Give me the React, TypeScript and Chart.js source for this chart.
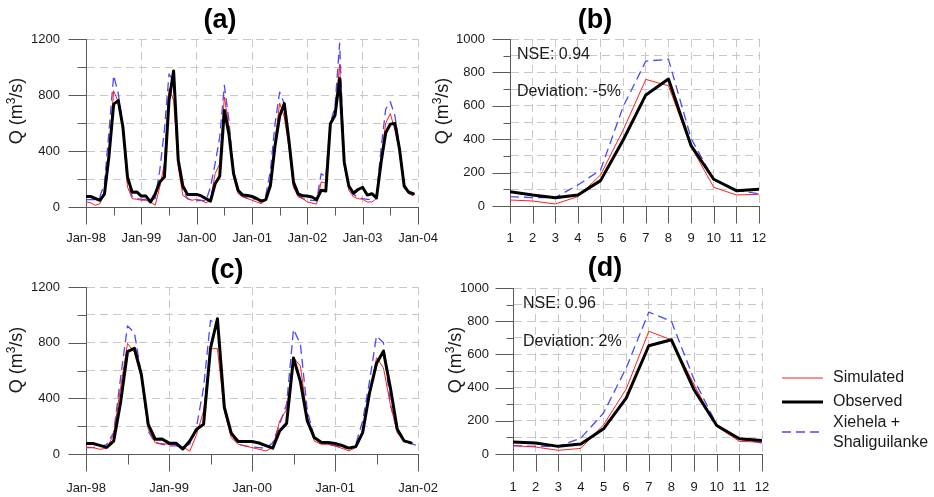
import React, { useEffect, useRef } from 'react';
import { Chart, registerables } from 'chart.js';

Chart.register(...registerables);

const W = 934;
const H = 497;
const FONT = '"Liberation Sans", Arial, Helvetica, sans-serif';

// ---------- data ----------
const xLabelsA = ['Jan-98', 'Jan-99', 'Jan-00', 'Jan-01', 'Jan-02', 'Jan-03', 'Jan-04'];
const xLabelsC = ['Jan-98', 'Jan-99', 'Jan-00', 'Jan-01', 'Jan-02'];
const monthLabels = ['1', '2', '3', '4', '5', '6', '7', '8', '9', '10', '11', '12'];

// (a) monthly series Jan-98 .. Dec-03
const observedA = [
  75, 75, 62, 48, 92, 370, 735, 760, 572, 213, 106, 108,
  78, 78, 36, 93, 178, 214, 760, 972, 335, 150, 90, 90,
  90, 79, 60, 42, 166, 220, 690, 520, 238, 118, 85, 82,
  75, 61, 42, 53, 154, 440, 650, 739, 477, 178, 94, 80,
  79, 72, 52, 119, 114, 595, 655, 917, 320, 150, 98, 125,
  140, 85, 95, 65, 320, 530, 592, 596, 410, 150, 105, 95,
];
const simulatedA = [
  36, 31, 12, 24, 95, 390, 830, 750, 560, 143, 60, 55,
  48, 48, 36, 12, 143, 310, 845, 762, 286, 83, 60, 48,
  55, 48, 29, 48, 238, 310, 786, 571, 214, 95, 72, 60,
  48, 36, 24, 48, 191, 476, 742, 643, 429, 143, 72, 60,
  36, 29, 20, 179, 172, 595, 643, 1020, 300, 119, 72, 60,
  55, 36, 36, 60, 357, 600, 667, 548, 405, 143, 95, 79,
];
const upstreamA = [
  52, 52, 52, 71, 167, 548, 940, 810, 583, 179, 76, 60,
  55, 55, 55, 60, 262, 548, 950, 900, 310, 119, 60, 48,
  45, 48, 43, 143, 310, 500, 869, 619, 262, 107, 76, 64,
  60, 52, 48, 83, 262, 595, 821, 738, 452, 143, 83, 60,
  52, 48, 45, 238, 214, 600, 720, 1170, 330, 140, 90, 70,
  60, 55, 55, 80, 420, 700, 752, 650, 430, 150, 100, 85,
];

// (b) mean monthly, period of (a)
const observedB = [86, 66, 50, 66, 152, 395, 665, 760, 361, 160, 92, 100];
const simulatedB = [36, 30, 12, 56, 186, 455, 758, 720, 355, 112, 66, 70];
const upstreamB = [56, 50, 50, 126, 216, 595, 868, 878, 405, 156, 96, 72];

// (c) monthly series Jan-98 .. Dec-01 (+ Jan-02 for upstream)
const observedC = observedA.slice(0, 48);
const simulatedC = [
  50, 46, 34, 41, 141, 477, 795, 728, 548, 177, 81, 74,
  70, 65, 50, 20, 141, 309, 757, 757, 309, 117, 70, 58,
  46, 34, 22, 46, 237, 321, 692, 632, 261, 93, 70, 70,
  58, 41, 22, 46, 165, 429, 692, 620, 357, 153, 89, 81,
];
const upstreamC = [
  46, 46, 50, 70, 153, 548, 920, 872, 572, 165, 81, 70,
  58, 58, 50, 70, 201, 477, 960, 932, 357, 141, 70, 58,
  50, 46, 41, 81, 213, 357, 896, 788, 309, 117, 81, 70,
  58, 46, 41, 70, 237, 525, 848, 800, 357, 165, 93, 74,
  58,
];

// (d) mean monthly, period of (c)
const observedD = [72, 66, 46, 60, 152, 337, 652, 688, 387, 172, 92, 82];
const simulatedD = [50, 42, 22, 34, 176, 391, 739, 688, 417, 166, 76, 72];
const upstreamD = [50, 46, 46, 96, 247, 518, 855, 799, 448, 176, 90, 66];

const statsB = ['NSE: 0.94', 'Deviation: -5%'];
const statsD = ['NSE: 0.96', 'Deviation: 2%'];
const legendLabels = ['Simulated', 'Observed', 'Xiehela +', 'Shaliguilanke'];

// ---------- styles ----------
const RED = '#ff1f1f';
const BLUE = '#4848ff';
const BLACK = '#000000';
const GRID = '#c8c8c8';
const AXIS = '#5a5a5a';
const TEXT = '#1a1a1a';
const BLUE_DASH = [9, 5];

type Area = { left: number; top: number; right: number; bottom: number };
type PanelCfg = {
  key: string;
  area: Area;
  x0: number;
  xMin: number;
  xMax: number;
  xStep: number;
  xLabel: (v: number) => string;
  xGrid: (v: number) => boolean;
  xMajor: (v: number) => boolean;
  xMajorLen: number;
  xMinorLen: number;
  xPad: number;
  yMax: number;
  yStep: number;
  yLabel: (v: number) => boolean;
  yGrid: (v: number) => boolean;
  yMajorLen: number;
  yMinorLen: number;
  yPad: number;
  sim: number[];
  obs: number[];
  up: number[];
  title: { text: string; x: number; y: number };
  yTitle: { x: number; y: number };
  notes: { text: string; x: number; y: number }[];
  legend: boolean;
};

const panels: PanelCfg[] = [
  {
    key: 'a',
    area: { left: 86, top: 39, right: 418, bottom: 207 },
    x0: 0, xMin: 0, xMax: 72, xStep: 6,
    xLabel: (v) => (v % 12 === 0 ? xLabelsA[v / 12] : ''),
    xGrid: (v) => v % 12 === 0,
    xMajor: (v) => v % 12 === 0,
    xMajorLen: 17, xMinorLen: 8, xPad: 7,
    yMax: 1200, yStep: 200,
    yLabel: (v) => v % 400 === 0,
    yGrid: () => true,
    yMajorLen: 18, yMinorLen: 9, yPad: 9,
    sim: simulatedA, obs: observedA, up: upstreamA,
    title: { text: '(a)', x: 220, y: 21 },
    yTitle: { x: 16, y: 111 },
    notes: [],
    legend: false,
  },
  {
    key: 'b',
    area: { left: 510, top: 39, right: 759, bottom: 206 },
    x0: 1, xMin: 1, xMax: 12, xStep: 1,
    xLabel: (v) => monthLabels[v - 1] ?? '',
    xGrid: () => true,
    xMajor: () => true,
    xMajorLen: 17, xMinorLen: 17, xPad: 8,
    yMax: 1000, yStep: 100,
    yLabel: (v) => v % 200 === 0,
    yGrid: () => true,
    yMajorLen: 18, yMinorLen: 7, yPad: 8,
    sim: simulatedB, obs: observedB, up: upstreamB,
    title: { text: '(b)', x: 595, y: 21 },
    yTitle: { x: 442, y: 111 },
    notes: [
      { text: statsB[0], x: 517, y: 55 },
      { text: statsB[1], x: 517, y: 92 },
    ],
    legend: false,
  },
  {
    key: 'c',
    area: { left: 86, top: 287, right: 418, bottom: 454 },
    x0: 0, xMin: 0, xMax: 48, xStep: 6,
    xLabel: (v) => (v % 12 === 0 ? xLabelsC[v / 12] : ''),
    xGrid: (v) => v % 12 === 0,
    xMajor: (v) => v % 12 === 0,
    xMajorLen: 17, xMinorLen: 10, xPad: 10,
    yMax: 1200, yStep: 200,
    yLabel: (v) => v % 400 === 0,
    yGrid: () => true,
    yMajorLen: 18, yMinorLen: 9, yPad: 9,
    sim: simulatedC, obs: observedC, up: upstreamC,
    title: { text: '(c)', x: 227, y: 271 },
    yTitle: { x: 16, y: 360 },
    notes: [],
    legend: false,
  },
  {
    key: 'd',
    area: { left: 513, top: 288, right: 762, bottom: 454 },
    x0: 1, xMin: 1, xMax: 12, xStep: 1,
    xLabel: (v) => monthLabels[v - 1] ?? '',
    xGrid: () => true,
    xMajor: () => true,
    xMajorLen: 17, xMinorLen: 17, xPad: 9,
    yMax: 1000, yStep: 100,
    yLabel: (v) => v % 200 === 0,
    yGrid: () => true,
    yMajorLen: 18, yMinorLen: 7, yPad: 7,
    sim: simulatedD, obs: observedD, up: upstreamD,
    title: { text: '(d)', x: 605, y: 269 },
    yTitle: { x: 455, y: 360 },
    notes: [
      { text: statsD[0], x: 523, y: 304 },
      { text: statsD[1], x: 523, y: 342 },
    ],
    legend: true,
  },
];

function toPoints(values: number[], start: number) {
  return values.map((v, i) => ({ x: start + i, y: v }));
}

function drawYTitle(ctx: CanvasRenderingContext2D, x: number, y: number) {
  const big = 18;
  const small = 12;
  const parts = [
    { t: 'Q (m', size: big, rise: 0 },
    { t: '3', size: small, rise: 7 },
    { t: '/s)', size: big, rise: 0 },
  ];
  ctx.save();
  ctx.translate(x, y);
  ctx.rotate(-Math.PI / 2);
  ctx.fillStyle = TEXT;
  ctx.textBaseline = 'alphabetic';
  ctx.textAlign = 'left';
  let total = 0;
  const widths = parts.map((p) => {
    ctx.font = `${p.size}px ${FONT}`;
    const w = ctx.measureText(p.t).width;
    total += w;
    return w;
  });
  let cx = -total / 2;
  const base = big * 0.716 / 2;
  parts.forEach((p, i) => {
    ctx.font = `${p.size}px ${FONT}`;
    ctx.fillText(p.t, cx, base - p.rise);
    cx += widths[i];
  });
  ctx.restore();
}

function makeDecor(cfg: PanelCfg) {
  return {
    id: 'decor_' + cfg.key,
    afterDraw(chart: any) {
      const ctx: CanvasRenderingContext2D = chart.ctx;
      const ca = chart.chartArea;
      const xs = chart.scales.x;
      const ys = chart.scales.y;
      ctx.save();
      ctx.strokeStyle = AXIS;
      ctx.lineWidth = 1;
      ctx.setLineDash([]);
      const yb = Math.round(ca.bottom) + 0.5;
      xs.ticks.forEach((t: any) => {
        const p = Math.round(xs.getPixelForValue(t.value)) + 0.5;
        const len = cfg.xMajor(t.value) ? cfg.xMajorLen : cfg.xMinorLen;
        ctx.beginPath();
        ctx.moveTo(p, yb);
        ctx.lineTo(p, yb + len);
        ctx.stroke();
      });
      const xl = Math.round(ca.left) + 0.5;
      ys.ticks.forEach((t: any) => {
        const p = Math.round(ys.getPixelForValue(t.value)) + 0.5;
        const len = cfg.yLabel(t.value) ? cfg.yMajorLen : cfg.yMinorLen;
        ctx.beginPath();
        ctx.moveTo(xl, p);
        ctx.lineTo(xl - len, p);
        ctx.stroke();
      });
      ctx.restore();

      // panel title
      ctx.save();
      ctx.fillStyle = BLACK;
      ctx.font = `bold 27px ${FONT}`;
      ctx.textAlign = 'center';
      ctx.textBaseline = 'middle';
      ctx.fillText(cfg.title.text, cfg.title.x, cfg.title.y);
      ctx.restore();

      drawYTitle(ctx, cfg.yTitle.x, cfg.yTitle.y);

      // statistics notes
      ctx.save();
      ctx.fillStyle = TEXT;
      ctx.font = `16px ${FONT}`;
      ctx.textAlign = 'left';
      ctx.textBaseline = 'middle';
      cfg.notes.forEach((n) => ctx.fillText(n.text, n.x, n.y));
      ctx.restore();

      if (cfg.legend) {
        const ds = chart.data.datasets;
        const byLabel = (l: string) => ds.find((d: any) => d.label === l);
        const items = [
          { d: byLabel('Simulated'), lineY: 378, texts: [{ t: legendLabels[0], y: 378 }] },
          { d: byLabel('Observed'), lineY: 402, texts: [{ t: legendLabels[1], y: 402 }] },
          {
            d: byLabel('Xiehela + Shaliguilanke'),
            lineY: 432,
            texts: [
              { t: legendLabels[2], y: 423 },
              { t: legendLabels[3], y: 443 },
            ],
          },
        ];
        ctx.save();
        items.forEach((it) => {
          ctx.strokeStyle = it.d.borderColor;
          ctx.lineWidth = it.d.borderWidth;
          ctx.setLineDash(it.d.borderDash || []);
          ctx.beginPath();
          ctx.moveTo(782, it.lineY);
          ctx.lineTo(823, it.lineY);
          ctx.stroke();
          ctx.setLineDash([]);
          ctx.fillStyle = TEXT;
          ctx.font = `16px ${FONT}`;
          ctx.textAlign = 'left';
          ctx.textBaseline = 'middle';
          it.texts.forEach((tx) => ctx.fillText(tx.t, 833, tx.y));
        });
        ctx.restore();
      }
    },
  };
}

function buildConfig(cfg: PanelCfg): any {
  const a = cfg.area;
  const padLeft = a.left - 80;
  const xHeight = 40;
  return {
    type: 'line',
    data: {
      datasets: [
        {
          label: 'Xiehela + Shaliguilanke',
          data: toPoints(cfg.up, cfg.x0),
          borderColor: BLUE,
          borderWidth: 1.3,
          borderDash: BLUE_DASH,
          borderJoinStyle: 'round',
          pointRadius: 0,
          tension: 0,
          fill: false,
          order: 3,
        },
        {
          label: 'Simulated',
          data: toPoints(cfg.sim, cfg.x0),
          borderColor: RED,
          borderWidth: 1,
          borderJoinStyle: 'round',
          pointRadius: 0,
          tension: 0,
          fill: false,
          order: 2,
        },
        {
          label: 'Observed',
          data: toPoints(cfg.obs, cfg.x0),
          borderColor: BLACK,
          borderWidth: 3,
          borderJoinStyle: 'round',
          borderCapStyle: 'round',
          pointRadius: 0,
          tension: 0,
          fill: false,
          order: 1,
        },
      ],
    },
    options: {
      responsive: false,
      animation: false,
      devicePixelRatio: 1,
      events: [],
      layout: {
        padding: {
          left: padLeft,
          top: a.top,
          right: W - a.right,
          bottom: H - a.bottom - xHeight,
        },
      },
      plugins: {
        legend: { display: false },
        tooltip: { enabled: false },
        title: { display: false },
      },
      scales: {
        x: {
          type: 'linear',
          position: 'bottom',
          min: cfg.xMin,
          max: cfg.xMax,
          afterFit: (s: any) => {
            s.height = xHeight;
            s.paddingLeft = 0;
            s.paddingRight = 0;
          },
          ticks: {
            stepSize: cfg.xStep,
            autoSkip: false,
            maxRotation: 0,
            minRotation: 0,
            padding: cfg.xPad,
            color: TEXT,
            font: { family: FONT, size: 13 },
            callback: (v: number) => cfg.xLabel(Math.round(v)),
          },
          grid: {
            color: (c: any) => (c.tick && cfg.xGrid(Math.round(c.tick.value)) ? GRID : 'rgba(0,0,0,0)'),
            lineWidth: 1,
            drawTicks: true,
            tickLength: 17,
            tickColor: 'rgba(0,0,0,0)',
          },
          border: { display: true, color: AXIS, width: 1, dash: [8, 5] },
        },
        y: {
          type: 'linear',
          position: 'left',
          min: 0,
          max: cfg.yMax,
          afterFit: (s: any) => {
            s.width = a.left - padLeft;
            s.paddingTop = 0;
            s.paddingBottom = 0;
          },
          ticks: {
            stepSize: cfg.yStep,
            autoSkip: false,
            padding: cfg.yPad,
            color: TEXT,
            font: { family: FONT, size: 13 },
            callback: (v: number) => (cfg.yLabel(Math.round(v)) ? String(Math.round(v)) : ''),
          },
          grid: {
            color: (c: any) => (c.tick && cfg.yGrid(Math.round(c.tick.value)) ? GRID : 'rgba(0,0,0,0)'),
            lineWidth: 1,
            drawTicks: true,
            tickLength: 17,
            tickColor: 'rgba(0,0,0,0)',
          },
          border: { display: true, color: AXIS, width: 1, dash: [8, 5] },
        },
      },
    },
    plugins: [makeDecor(cfg)],
  };
}

function Panel({ cfg }: { cfg: PanelCfg }) {
  const ref = useRef<HTMLCanvasElement | null>(null);
  useEffect(() => {
    if (!ref.current) return;
    const chart = new Chart(ref.current, buildConfig(cfg));
    return () => chart.destroy();
  }, [cfg]);
  return (
    <canvas
      ref={ref}
      width={W}
      height={H}
      style={{ position: 'absolute', left: 0, top: 0, width: W, height: H }}
    />
  );
}

export default function App() {
  return (
    <div
      style={{
        position: 'absolute',
        left: 0,
        top: 0,
        width: W,
        height: H,
        background: '#ffffff',
        overflow: 'hidden',
      }}
    >
      {panels.map((p) => (
        <Panel key={p.key} cfg={p} />
      ))}
    </div>
  );
}
